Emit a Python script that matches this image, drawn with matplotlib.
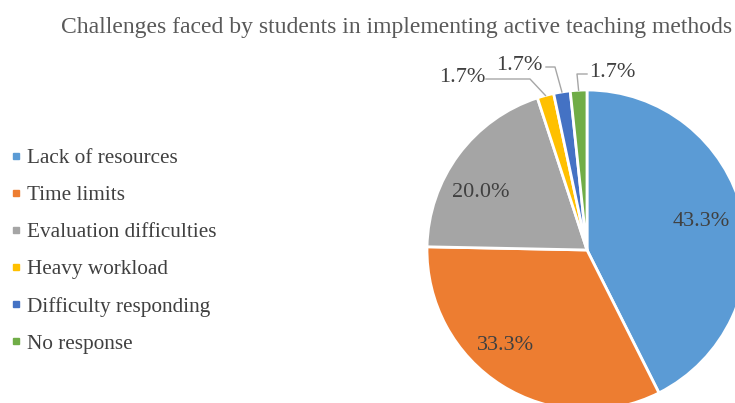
import matplotlib
matplotlib.use("Agg")
import matplotlib.pyplot as plt
import numpy as np
from matplotlib.lines import Line2D

# data
categories = ["Lack of resources", "Time limits", "Evaluation difficulties",
              "Heavy workload", "Difficulty responding", "No response"]
values = [43.3, 33.3, 20.0, 1.7, 1.7, 1.7]
colors = ["#5B9BD5", "#ED7D31", "#A5A5A5", "#FFC000", "#4472C4", "#70AD47"]
title = "Challenges faced by students in implementing active teaching methods"

plt.rcParams['font.family'] = ['Liberation Serif', 'DejaVu Serif']
txt_col = "#404040"

W, H = 735, 403
fig = plt.figure(figsize=(W / 100, H / 100), dpi=100)

# pie centre / radius in pixels
cx, cy, R = 587, 250, 160
ax = fig.add_axes([(cx - R) / W, (H - cy - R) / H, 2 * R / W, 2 * R / H])
wedges, _ = ax.pie(values, colors=colors, startangle=90, counterclock=False,
                   wedgeprops=dict(edgecolor="white", linewidth=2))
ax.set_xlim(-1, 1)
ax.set_ylim(-1, 1)
ax.set_aspect("equal")
ax.axis("off")

lab_fs = 16


def d(x):
    return (x - cx) / R


def e(y):
    return (cy - y) / R


# inner labels, pixel positions
inner = {0: (701, 222), 1: (505, 346), 2: (481, 192)}
for i, (tx, ty) in inner.items():
    ax.text(d(tx), e(ty), "%.1f%%" % values[i], ha="center",
            va="center", fontsize=lab_fs, color=txt_col)

# outer labels with leader lines: text pos (px), line start x, elbow x, line y
outer = {3: ((462, 77), 486, 530, 79),
         4: ((519, 65), 546, 555, 67),
         5: ((612, 72), 587, 577, 74)}
for i, ((tx, ty), sx, ex, ly) in outer.items():
    w = wedges[i]
    a = np.deg2rad((w.theta1 + w.theta2) / 2)
    px, py = np.cos(a), np.sin(a)
    ax.text(d(tx), e(ty), "%.1f%%" % values[i], ha="center", va="center",
            fontsize=lab_fs, color=txt_col, clip_on=False)
    ax.plot([d(sx), d(ex), px], [e(ly), e(ly), py], color="#A6A6A6",
            lw=1, clip_on=False)

# legend
handles = [Line2D([], [], marker="s", linestyle="", markersize=5,
                  markerfacecolor=c, markeredgecolor=c) for c in colors]
leg = fig.legend(handles, categories, loc="center left",
                 bbox_to_anchor=(0.0, (H - 251) / H), frameon=False,
                 fontsize=15.3, labelspacing=0.81, handlelength=0.6,
                 handletextpad=0.22, borderaxespad=0.05)
for t in leg.get_texts():
    t.set_color(txt_col)

fig.text(397 / W, 1 - 27 / H, title, ha="center", va="center",
         fontsize=17, color="#595959")

fig.savefig("out.png", dpi=100)
